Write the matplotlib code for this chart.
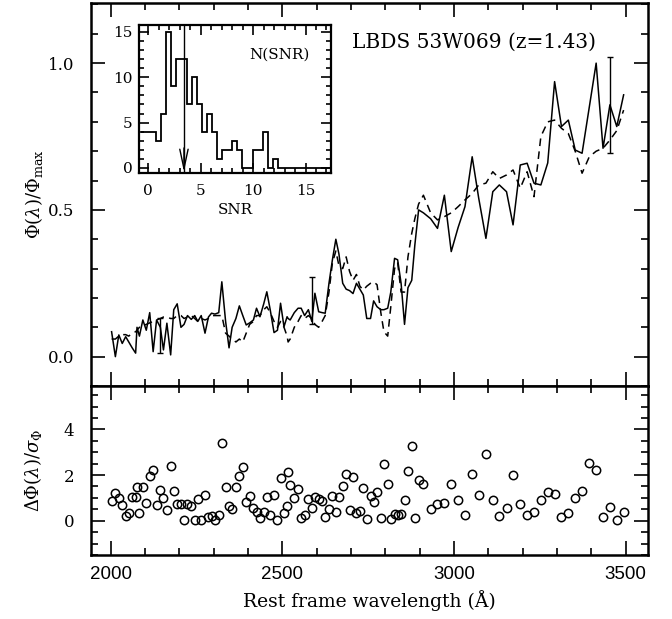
import numpy as np
import matplotlib
matplotlib.use("Agg")
import matplotlib.pyplot as plt
from matplotlib.ticker import MultipleLocator

plt.rcParams['font.family'] = ['DejaVu Serif']
plt.rcParams['mathtext.fontset'] = 'dejavuserif'

# rest-frame wavelength of each spectral bin (A)
wave = [2003, 2014, 2024, 2034, 2044, 2053, 2063, 2073, 2077, 2084,
        2094, 2104, 2114, 2124, 2134, 2145, 2154, 2164, 2175, 2184,
        2194, 2205, 2214, 2224, 2235, 2245, 2254, 2264, 2275, 2285,
        2294, 2304, 2315, 2324, 2335, 2345, 2354, 2365, 2375, 2385,
        2395, 2405, 2416, 2425, 2435, 2446, 2455, 2465, 2476, 2486,
        2495, 2505, 2514, 2517, 2523, 2535, 2546, 2555, 2565, 2576,
        2586, 2595, 2606, 2616, 2625, 2636, 2646, 2656, 2665, 2676,
        2686, 2696, 2706, 2716, 2726, 2736, 2746, 2757, 2766, 2776,
        2787, 2796, 2807, 2816, 2827, 2836, 2846, 2856, 2866, 2877,
        2886, 2897, 2911, 2932, 2952, 2972, 2992, 3012, 3032, 3053,
        3072, 3093, 3113, 3132, 3153, 3172, 3193, 3213, 3233, 3253,
        3273, 3293, 3313, 3333, 3353, 3373, 3394, 3414, 3434, 3454,
        3474, 3494]

# observed spectrum, normalised
flux_obs = [0.085, 0.000, 0.074, 0.045, 0.068, 0.050, 0.030, 0.012, 0.100, 0.070,
            0.125, 0.090, 0.150, 0.017, 0.125, 0.100, 0.023, 0.114, 0.006, 0.160,
            0.180, 0.100, 0.110, 0.140, 0.127, 0.140, 0.120, 0.140, 0.080, 0.135,
            0.148, 0.145, 0.150, 0.255, 0.120, 0.030, 0.100, 0.130, 0.173, 0.140,
            0.108, 0.115, 0.125, 0.165, 0.136, 0.180, 0.221, 0.159, 0.082, 0.090,
            0.182, 0.102, 0.136, 0.130, 0.125, 0.150, 0.165, 0.165, 0.140, 0.160,
            0.120, 0.216, 0.153, 0.150, 0.148, 0.250, 0.330, 0.400, 0.350, 0.250,
            0.230, 0.225, 0.215, 0.250, 0.230, 0.210, 0.130, 0.130, 0.190, 0.170,
            0.160, 0.160, 0.165, 0.220, 0.335, 0.330, 0.250, 0.110, 0.235, 0.260,
            0.380, 0.500, 0.490, 0.470, 0.437, 0.550, 0.358, 0.440, 0.511, 0.681,
            0.540, 0.403, 0.562, 0.585, 0.562, 0.449, 0.653, 0.659, 0.591, 0.585,
            0.660, 0.937, 0.784, 0.806, 0.704, 0.693, 0.850, 1.000, 0.710, 0.858,
            0.784, 0.892]

# best-fit model spectrum
flux_model = [0.060, 0.060, 0.070, 0.075, 0.075, 0.070, 0.080, 0.085, 0.090, 0.100,
              0.105, 0.110, 0.115, 0.120, 0.125, 0.130, 0.135, 0.135, 0.130, 0.130,
              0.140, 0.140, 0.130, 0.135, 0.140, 0.130, 0.120, 0.130, 0.125, 0.130,
              0.140, 0.140, 0.140, 0.140, 0.080, 0.070, 0.060, 0.050, 0.060, 0.050,
              0.080, 0.110, 0.120, 0.140, 0.140, 0.160, 0.170, 0.150, 0.120, 0.100,
              0.120, 0.100, 0.070, 0.050, 0.060, 0.100, 0.120, 0.140, 0.130, 0.140,
              0.130, 0.110, 0.100, 0.120, 0.140, 0.220, 0.320, 0.360, 0.310, 0.300,
              0.340, 0.290, 0.260, 0.280, 0.240, 0.227, 0.240, 0.250, 0.255, 0.245,
              0.150, 0.085, 0.070, 0.170, 0.300, 0.320, 0.220, 0.220, 0.340, 0.420,
              0.470, 0.520, 0.550, 0.490, 0.466, 0.477, 0.490, 0.511, 0.534, 0.556,
              0.585, 0.591, 0.630, 0.607, 0.619, 0.636, 0.574, 0.630, 0.545, 0.750,
              0.800, 0.806, 0.778, 0.760, 0.700, 0.625, 0.681, 0.700, 0.710, 0.738,
              0.770, 0.840]

# |obs - model| / sigma
resid = [0.86, 1.23, 0.98, 0.69, 0.22, 0.35, 1.02, 1.02, 1.46, 0.35,
         1.46, 0.79, 1.97, 2.23, 0.67, 1.36, 0.98, 0.47, 2.38, 1.29,
         0.75, 0.73, 0.03, 0.75, 0.64, 0.03, 0.95, 0.03, 1.14, 0.16,
         0.19, 0.03, 0.25, 3.41, 1.49, 0.64, 0.51, 1.46, 1.97, 2.35,
         0.80, 1.10, 0.57, 0.40, 0.10, 0.38, 1.02, 0.23, 1.14, 0.05,
         1.89, 0.35, 0.65, 2.15, 1.55, 0.98, 1.37, 0.10, 0.25, 0.95,
         0.54, 1.05, 0.95, 0.86, 0.15, 0.50, 1.10, 0.40, 1.05, 1.53,
         2.04, 0.45, 1.91, 0.34, 0.42, 1.44, 0.07, 1.10, 0.80, 1.25,
         0.11, 2.48, 1.60, 0.09, 0.29, 0.25, 0.28, 0.91, 2.19, 3.28,
         0.11, 1.78, 1.59, 0.53, 0.72, 0.76, 1.62, 0.92, 0.25, 2.03,
         1.11, 2.92, 0.90, 0.21, 0.54, 1.99, 0.72, 0.24, 0.40, 0.93,
         1.24, 1.15, 0.15, 0.34, 1.00, 1.29, 2.55, 2.22, 0.18, 0.61,
         0.03, 0.37]

# representative error bars
err_wave = [2144, 2586, 3455]
err_lo = [0.012, 0.110, 0.693]
err_hi = [0.131, 0.270, 1.022]

# SNR histogram (inset)
snr_counts = [4, 4, 4, 3, 6, 15, 9, 12, 12, 7, 10, 7, 4, 6, 4, 1, 2, 2, 3, 2,
              0, 0, 2, 2, 4, 0, 1, 0, 0, 0, 0, 0, 0, 0, 0, 0, 0, 0]
snr_start = -0.72
snr_binw = 0.485
snr_median = 3.4

wave_ticks = [2000, 2500, 3000, 3500]


def style_axis(ax, xmaj, xmin, ymaj, ymin, lw=1.8):
    ax.xaxis.set_major_locator(MultipleLocator(xmaj))
    ax.xaxis.set_minor_locator(MultipleLocator(xmin))
    ax.yaxis.set_major_locator(MultipleLocator(ymaj))
    ax.yaxis.set_minor_locator(MultipleLocator(ymin))
    ax.tick_params(which='both', direction='in', top=True, right=True, width=1.2)
    ax.tick_params(which='major', length=10)
    ax.tick_params(which='minor', length=5)
    for s in ax.spines.values():
        s.set_linewidth(lw)


fig = plt.figure(figsize=(6.72, 6.19), dpi=100)
ax1 = fig.add_axes([0.1354, 0.3764, 0.8289, 0.6188])
ax2 = fig.add_axes([0.1354, 0.1034, 0.8289, 0.2730], sharex=ax1)

# --- spectrum panel
ax1.plot(wave, flux_model, color='k', lw=1.1, dashes=(5, 3.5))
ax1.plot(wave, flux_obs, color='k', lw=1.1)
ax1.vlines(err_wave, err_lo, err_hi, color='k', lw=1.0)
ax1.hlines(err_lo, np.array(err_wave) - 8, np.array(err_wave) + 8, color='k', lw=1.0)
ax1.hlines(err_hi, np.array(err_wave) - 8, np.array(err_wave) + 8, color='k', lw=1.0)
ax1.set_xlim(1943, 3565)
ax1.set_ylim(-0.1, 1.205)
style_axis(ax1, 500, 100, 0.5, 0.1)
ax1.tick_params(labelbottom=False, labelsize=12)
ax1.tick_params(axis='y', pad=12)
ax1.set_yticks([0.0, 0.5, 1.0])
ax1.set_yticklabels(['0.0', '0.5', '1.0'])
ax1.set_ylabel(r'$\Phi(\lambda)/\Phi_{\rm max}$', fontsize=13, labelpad=2)
ax1.text(2704, 1.072, 'LBDS 53W069 (z=1.43)', fontsize=14.5, va='center')

# --- residual panel
ax2.plot(wave, resid, 'o', mfc='none', mec='k', ms=6, mew=1.1)
ax2.set_ylim(-1.5, 5.9)
style_axis(ax2, 500, 100, 2, 0.5)
ax2.set_yticks([0, 2, 4])
ax2.tick_params(axis='y', labelsize=12, pad=12)
ax2.tick_params(axis='x', pad=8)
ax2.set_xticks(wave_ticks, [str(t) for t in wave_ticks],
               fontfamily='Liberation Sans', fontsize=13.5)
ax2.set_ylabel(r'$\Delta\Phi(\lambda)/\sigma_\Phi$', fontsize=13, labelpad=14)
ax2.set_xlabel('Rest frame wavelength (Å)', fontsize=13.5, labelpad=5)

# --- inset histogram
ax3 = fig.add_axes([0.2073, 0.7200, 0.2848, 0.2401])
edges = snr_start + snr_binw * np.arange(len(snr_counts) + 1)
ax3.stairs(snr_counts, edges, baseline=None, color='k', lw=1.3)
ax3.axvline(snr_median, color='k', lw=1.0)
ax3.annotate('', xy=(snr_median, -0.45), xytext=(snr_median, 2.2),
             arrowprops=dict(arrowstyle='->,head_length=1.4,head_width=0.3',
                             color='k', lw=1.0, shrinkA=0, shrinkB=0))
ax3.set_xlim(-0.86, 17.4)
ax3.set_ylim(-0.6, 15.8)
style_axis(ax3, 5, 1, 5, 1, lw=1.6)
ax3.tick_params(which='major', length=7)
ax3.tick_params(which='minor', length=3.5)
ax3.tick_params(labelsize=11)
ax3.tick_params(axis='x', pad=8)
ax3.tick_params(axis='y', pad=5)
ax3.set_xlabel('SNR', fontsize=11, labelpad=3)
ax3.text(0.89, 0.80, 'N(SNR)', transform=ax3.transAxes, ha='right',
         va='center', fontsize=11)

fig.savefig('out.png', dpi=100)
